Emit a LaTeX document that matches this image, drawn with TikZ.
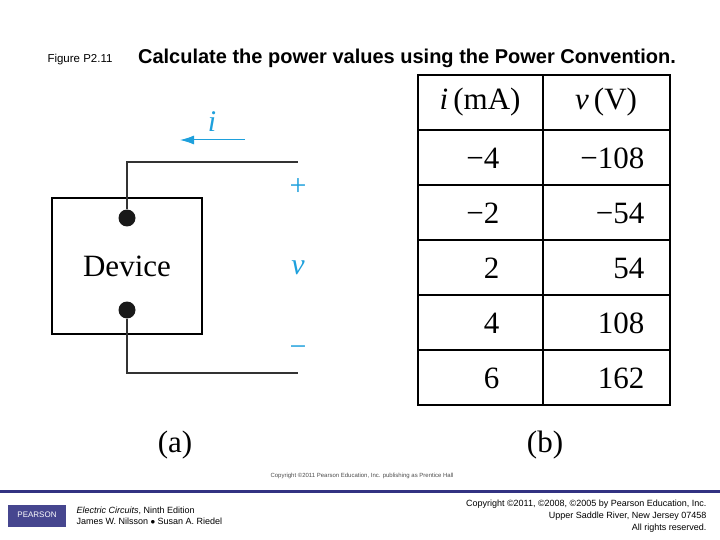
\documentclass[tikz,border=0pt]{standalone}
\usepackage{fontspec}
\usetikzlibrary{arrows.meta}
\setsansfont{Liberation Sans}
\setmainfont{Liberation Serif}
\begin{document}
\begin{tikzpicture}[x=1pt,y=-1pt,
  wire/.style={line width=1.5pt,draw=black!80},
  blue/.style={text=cblue,font=\fontsize{30}{30}\selectfont},
  cell/.style={font=\fontsize{31}{31}\selectfont},
  dot/.style={circle,fill=black!90,inner sep=0,minimum size=17pt}]
\definecolor{cblue}{RGB}{30,160,220}
\definecolor{navy}{RGB}{50,50,130}
\useasboundingbox (0,0) rectangle (720,540);
\node[font=\sffamily\fontsize{11.5}{11.5}\selectfont] (fig) at (80,60) {Figure P2.11};
\node[font=\sffamily\bfseries\fontsize{20}{20}\selectfont] (title) at (407,58) {Calculate the power values using the Power Convention.};
% device
\draw[line width=1.2pt] (52,198) rectangle (202,334);
\node[font=\fontsize{31}{31}\selectfont] (dev) at (127,266) {Device};
\node[dot] (d1) at (127,218) {};
\node[dot] (d2) at (127,310) {};
\coordinate (t1) at (127,162); \coordinate (t2) at (298,162);
\coordinate (b1) at (127,373); \coordinate (b2) at (298,373);
\draw[wire] (d1) -- (t1) -- (t2);
\draw[wire] (d2) -- (b1) -- (b2);
\coordinate (a1) at (245,140); \coordinate (a2) at (180,140);
\draw[cblue,line width=1pt,-{Latex[length=14pt,width=9pt]}] (a1) -- (a2);
\node[blue] (i) at (212,122) {\textit{i}};
\node[blue] (plus) at (298,187) {+};
\node[blue] (v) at (298,268) {\textit{v}};
\node[blue] (minus) at (298,351) {\textminus};
% table
\draw[line width=1.2pt] (418,75) rectangle (670,405);
\draw[line width=1.2pt] (543,75) -- (543,405);
\foreach \y in {130,185,240,295,350} \draw[line width=1.2pt] (418,\y) -- (670,\y);
\node[cell] (h1) at (480,102) {\textit{i\,}(mA)};
\node[cell] (h2) at (606,102) {\textit{v\,}(V)};
\foreach \a/\b/\y in {\textminus4/\textminus108/158,\textminus2/\textminus54/213,2/54/268,4/108/323,6/162/378}{
  \node[cell,anchor=east] at (503,\y) {\a};
  \node[cell,anchor=east] at (648,\y) {\b};
}
\node[cell] (la) at (175,445) {(a)};
\node[cell] (lb) at (545,445) {(b)};
\node[font=\sffamily\fontsize{6}{6}\selectfont,text=black!70] (cp) at (362,476) {Copyright \textcopyright 2011 Pearson Education, Inc. publishing as Prentice Hall};
\fill[navy] (0,490) rectangle (720,493);
\fill[navy!90] (8,505) rectangle (66,527);
\node[text=white,font=\sffamily\fontsize{8}{8}\selectfont] (logo) at (37,515) {PEARSON};
\node[anchor=west,align=left,font=\sffamily\fontsize{9}{11}\selectfont] (book) at (73,516) {\textit{Electric Circuits}, Ninth Edition\\James W. Nilsson $\bullet$ Susan A. Riedel};
\node[anchor=east,align=right,font=\sffamily\fontsize{9}{12}\selectfont] (copy) at (710,516) {Copyright \textcopyright 2011, \textcopyright 2008, \textcopyright 2005 by Pearson Education, Inc.\\Upper Saddle River, New Jersey 07458\\All rights reserved.};
\end{tikzpicture}
\end{document}
